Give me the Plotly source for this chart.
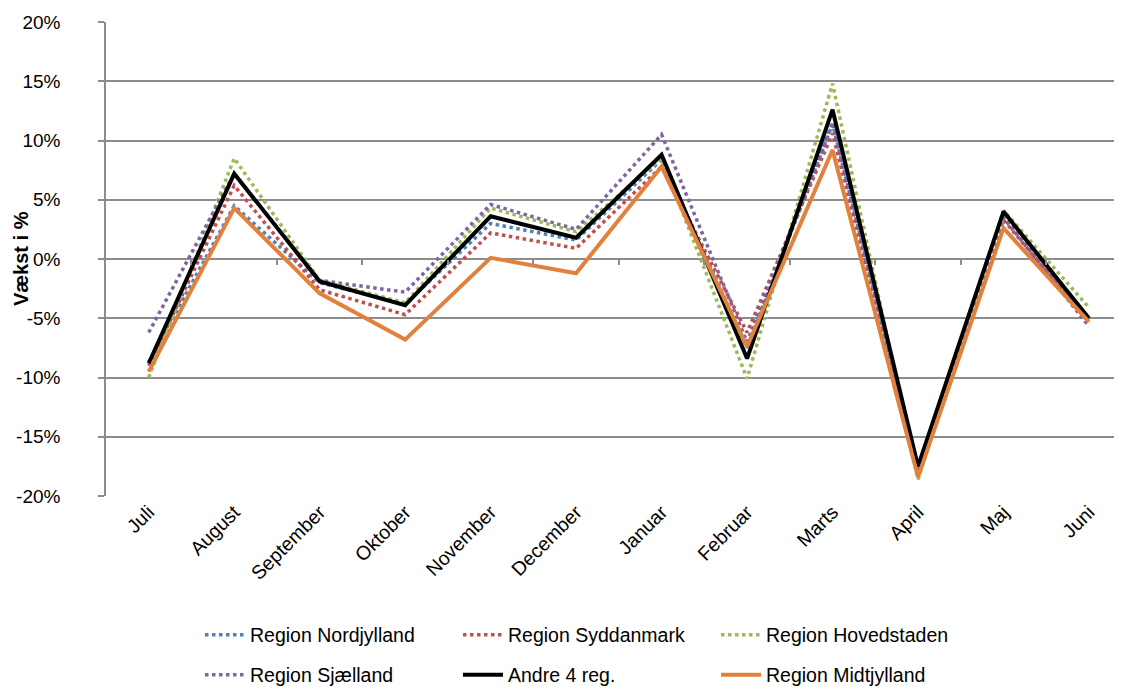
import plotly.graph_objects as go

months = ["Juli", "August", "September", "Oktober", "November", "December",
          "Januar", "Februar", "Marts", "April", "Maj", "Juni"]

nordjylland = [-8.7, 4.5, -2.0, -3.8, 3.0, 1.6, 8.4, -7.5, 11.4, -17.8, 3.5, -5.3]
syddanmark  = [-9.0, 6.2, -2.6, -4.7, 2.2, 0.9, 7.8, -6.2, 10.6, -17.9, 3.3, -5.3]
hovedstaden = [-10.0, 8.5, -1.8, -3.7, 4.3, 2.3, 8.5, -10.1, 14.8, -18.6, 4.1, -4.1]
sjaelland   = [-6.2, 7.2, -1.8, -2.8, 4.6, 2.5, 10.5, -7.0, 11.5, -17.6, 3.5, -5.7]
andre4      = [-8.8, 7.2, -1.9, -3.9, 3.6, 1.8, 8.8, -8.4, 12.6, -17.5, 4.0, -5.0]
midtjylland = [-9.5, 4.3, -2.9, -6.8, 0.1, -1.2, 7.8, -7.4, 9.2, -18.4, 2.6, -5.3]

y_ticks = [-20, -15, -10, -5, 0, 5, 10, 15, 20]
y_tick_labels = ["-20%", "-15%", "-10%", "-5%", "0%", "5%", "10%", "15%", "20%"]

series = [
    ("Region Nordjylland", nordjylland, "#4F81BD", "dot", 3.5, "legend"),
    ("Region Syddanmark", syddanmark, "#C0504D", "dot", 3.5, "legend"),
    ("Region Hovedstaden", hovedstaden, "#9BBB59", "dot", 3.5, "legend"),
    ("Region Sjælland", sjaelland, "#8064A2", "dot", 3.5, "legend2"),
    ("Andre 4 reg.", andre4, "#000000", "solid", 4, "legend2"),
    ("Region Midtjylland", midtjylland, "#E0823D", "solid", 4, "legend2"),
]

fig = go.Figure()
for name, vals, color, dash, w, lg in series:
    fig.add_trace(go.Scatter(
        x=months, y=[v / 100 for v in vals], mode="lines", name=name,
        line=dict(color=color, width=w, dash=("3.5px,3.5px" if dash == "dot" else "solid")),
        legend=lg,
    ))

font = "Liberation Sans, Arial, sans-serif"
legend_common = dict(orientation="h", xref="container", yref="container",
                     xanchor="left", yanchor="middle",
                     entrywidth=203, entrywidthmode="pixels",
                     font=dict(family=font, size=19.5, color="#000"),
                     bgcolor="rgba(0,0,0,0)", itemwidth=40)

fig.update_layout(
    width=1122, height=688,
    margin=dict(l=98, r=0, t=14, b=200, autoexpand=False),
    paper_bgcolor="white", plot_bgcolor="white",
    font=dict(family=font, size=18, color="#000"),
    xaxis=dict(type="category", range=[-0.5, 11.48], tickangle=-45,
               showgrid=False, showline=False, ticks="", automargin=False,
               tickfont=dict(size=19.5)),
    xaxis2=dict(overlaying="x", anchor="free", position=0.5, range=[-0.5, 11.48],
                tickvals=[i + 0.5 for i in range(11)], ticks="outside", ticklen=5,
                tickcolor="#8c8c8c", tickwidth=1.5, showticklabels=False,
                showgrid=False, showline=False, zeroline=False, automargin=False),
    yaxis=dict(range=[-0.2, 0.2], tickvals=[v / 100 for v in y_ticks],
               ticktext=y_tick_labels, automargin=False,
               showgrid=True, gridcolor="#8c8c8c", gridwidth=1.5,
               showline=True, linecolor="#8c8c8c", linewidth=1.5,
               ticks="outside", ticklen=6, tickcolor="#8c8c8c", tickwidth=1.5,
               zeroline=False, ticklabelstandoff=34, tickfont=dict(size=19)),
    legend=dict(x=192 / 1122, y=1 - 627 / 688, **legend_common),
    legend2=dict(x=192 / 1122, y=1 - 667 / 688, **legend_common),
)
fig.add_annotation(text="<b>Vækst i %</b>", textangle=-90, showarrow=False,
                   xref="paper", yref="paper", x=-85 / 1024, y=0.5,
                   xanchor="center", yanchor="middle",
                   font=dict(family=font, size=20, color="#000"))
fig.add_trace(go.Scatter(x=[0], y=[0], xaxis="x2", mode="markers",
                         marker=dict(opacity=0), showlegend=False, hoverinfo="skip"))

fig.write_html("out.html")
